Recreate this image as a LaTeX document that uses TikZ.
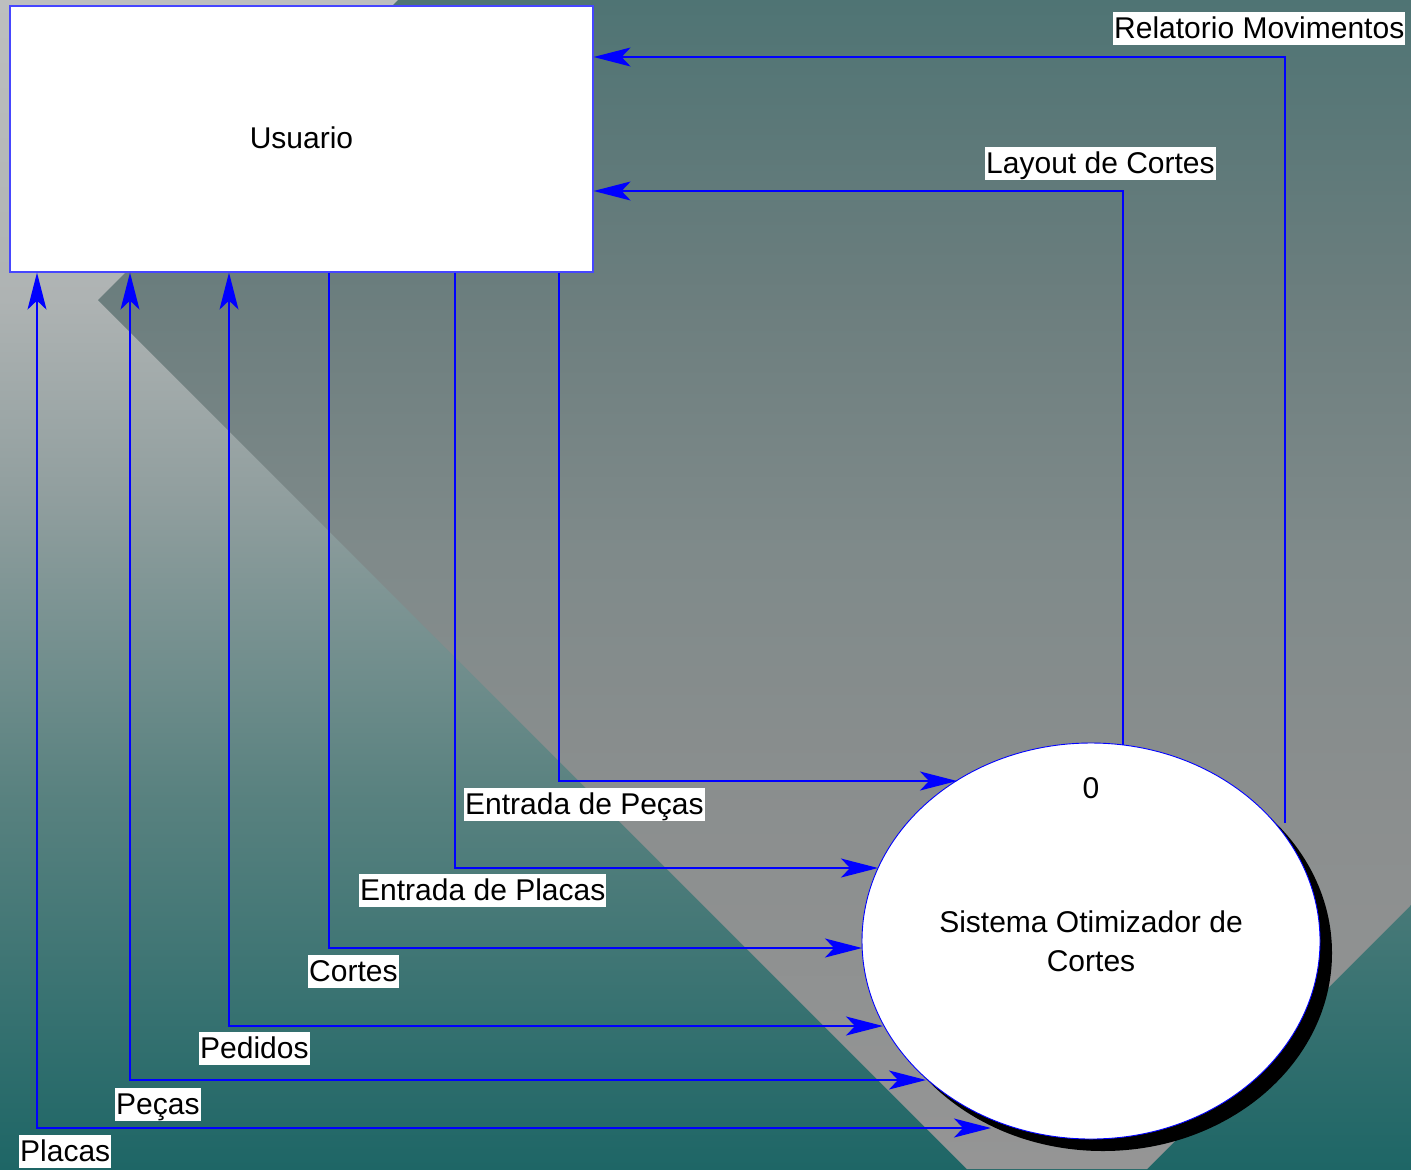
\documentclass[tikz,border=0pt]{standalone}
\usepackage{fontspec}
\setmainfont{Liberation Sans}
\usetikzlibrary{arrows.meta,shapes.geometric,shadows}

\definecolor{bgA}{HTML}{BDBFBF}
\definecolor{bgB}{HTML}{AEB3B3}
\definecolor{bgC}{HTML}{909E9E}
\definecolor{bgD}{HTML}{58817F}
\definecolor{bgE}{HTML}{1E6666}
\definecolor{dmA}{HTML}{4F7474}
\definecolor{dmB}{HTML}{6C7E7E}
\definecolor{dmC}{HTML}{7F8A8A}
\definecolor{dmD}{HTML}{8A8E8E}
\definecolor{dmE}{HTML}{959595}
\definecolor{boxblue}{RGB}{70,70,255}

\pgfdeclareverticalshading{bgsh}{100bp}{color(0bp)=(bgE); color(25bp)=(bgE); color(40.8bp)=(bgD); color(53.6bp)=(bgC); color(62.2bp)=(bgB); color(75bp)=(bgA); color(100bp)=(bgA)}
\pgfdeclareverticalshading{dmsh}{100bp}{color(0bp)=(dmE); color(25bp)=(dmE); color(41.6bp)=(dmD); color(51.5bp)=(dmC); color(62.2bp)=(dmB); color(75bp)=(dmA); color(100bp)=(dmA)}

\begin{document}
\begin{tikzpicture}[x=1bp,y=-1bp,
  txt/.style={font=\fontsize{30bp}{39bp}\selectfont},
  ubox/.style={draw=boxblue,line width=1.2bp,fill=white,minimum width=583bp,minimum height=266bp,inner sep=0pt,txt},
  sysell/.style={ellipse,draw=blue,line width=0.9bp,fill=white,minimum width=458bp,minimum height=396bp,inner sep=0pt,align=center,txt,
    drop shadow={shadow xshift=12bp,shadow yshift=-12bp,fill=black,opacity=1}},
  flow/.style={draw=blue,line width=1.4bp},
  >={Stealth[length=37bp,width=19bp,inset=9bp]},
  lbl/.style={fill=white,txt,inner xsep=1bp,inner ysep=1bp,text height=25bp,text depth=6bp,anchor=base west}
]
\useasboundingbox (0,0) rectangle (1411,1169);
% background
\shade[shading=bgsh] (0,0) rectangle (1411,1169);
\shade[shading=dmsh] (98,300) -- (398,0) -- (1411,0) -- (1411,905) -- (1147,1169) -- (967,1169) -- cycle;

% nodes
\node[ubox] (usr) at (301.5,139) {\raisebox{2bp}{Usuario}};
\node[sysell] (sys) at (1091,941) {Sistema Otimizador de\\Cortes};
\node[txt] (sysnum) at ([yshift=-46bp]sys.north) {0};

% bend points
\coordinate (kpl) at (37,1128);
\coordinate (kpc) at (130,1080);
\coordinate (kpd) at (229,1026);
\coordinate (kco) at (329,948);
\coordinate (kep) at (455,868);
\coordinate (kepc) at (559,781);
\coordinate (klc) at (1123,191);
\coordinate (krm) at (1285,57);
% end points on the process
\coordinate (epl) at (991,1128);
\coordinate (epc) at (926,1080);
\coordinate (epd) at (883,1026);
\coordinate (eco) at (862,948);
\coordinate (eep) at (878,868);
\coordinate (eepc) at (957,781);
\coordinate (elc) at (1123,745);
\coordinate (erm) at (1285,823);

% connectors
\draw[flow,<->] (usr.south -| kpl) -- (kpl) -- (epl);
\draw[flow,<->] (usr.south -| kpc) -- (kpc) -- (epc);
\draw[flow,<->] (usr.south -| kpd) -- (kpd) -- (epd);
\draw[flow,->] (usr.south -| kco) -- (kco) -- (eco);
\draw[flow,->] (usr.south -| kep) -- (kep) -- (eep);
\draw[flow,->] (usr.south -| kepc) -- (kepc) -- (eepc);
\draw[flow,->] (elc) -- (klc) -- (usr.east |- klc);
\draw[flow,->] (erm) -- (krm) -- (usr.east |- krm);

% labels
\node[lbl] (lRM) at (1113,38) {Relatorio Movimentos};
\node[lbl] (lLC) at (985,173) {Layout de Cortes};
\node[lbl] (lEPc) at (464,814) {Entrada de Peças};
\node[lbl] (lEPl) at (359,900) {Entrada de Placas};
\node[lbl] (lCo) at (308,981) {Cortes};
\node[lbl] (lPd) at (199,1058) {Pedidos};
\node[lbl] (lPc) at (115,1114) {Peças};
\node[lbl] (lPl) at (19,1161) {Placas};
\end{tikzpicture}
\end{document}
